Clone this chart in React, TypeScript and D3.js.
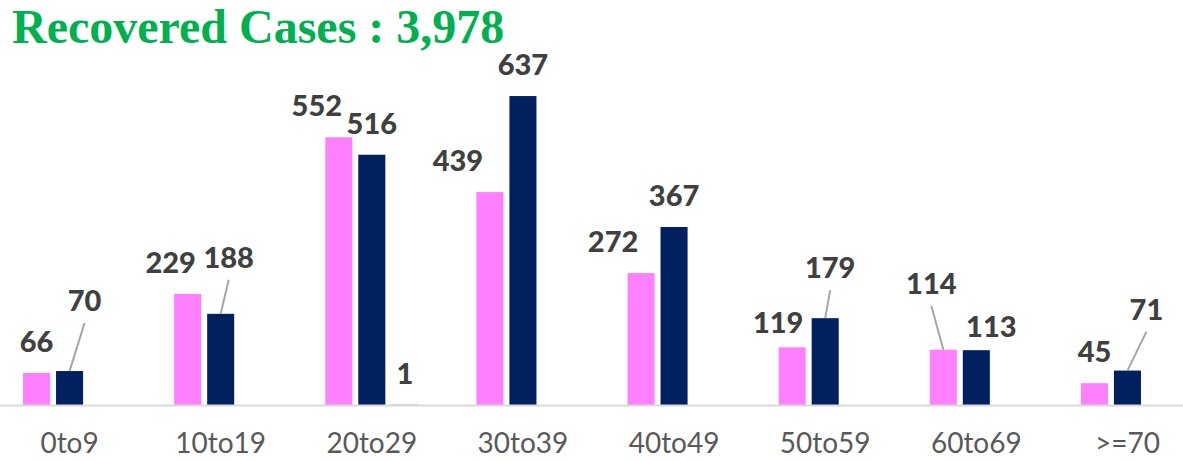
import { useEffect, useRef } from 'react'
import * as d3 from 'd3'

const categories = ['0to9', '10to19', '20to29', '30to39', '40to49', '50to59', '60to69', '>=70']
const seriesNames = ['Female', 'Male', 'Unknown']
const female = [66, 229, 552, 439, 272, 119, 114, 45]
const male = [70, 188, 516, 637, 367, 179, 113, 71]
const unknown = [0, 0, 1, 0, 0, 0, 0, 0]
const colors = ['#ff80ff', '#002060', '#a5a5a5']

// manual label nudges (dx, dy, leader line) for the labels that were dragged in the original
const nudges: Record<string, { dx: number; dy: number; leader?: boolean }> = {
  '0-1': { dx: 15, dy: -39, leader: true },
  '1-0': { dx: -17, dy: 0 },
  '1-1': { dx: 8, dy: -25, leader: true },
  '2-0': { dx: -22, dy: 0 },
  '3-0': { dx: -32, dy: 0 },
  '4-0': { dx: -28, dy: 0 },
  '5-0': { dx: -14, dy: 7 },
  '5-1': { dx: 5, dy: -19, leader: true },
  '6-0': { dx: -12, dy: -35, leader: true },
  '6-1': { dx: 15, dy: 8 },
  '7-1': { dx: 19, dy: -30, leader: true },
}

const W = 1183
const H = 461

export default function App() {
  const ref = useRef<SVGSVGElement>(null)

  useEffect(() => {
    const svg = d3.select(ref.current)
    svg.selectAll('*').remove()

    const series = [female, male, unknown]
    const rows = categories.map((c, i) => ({
      cat: c,
      values: series.map((s, k) => ({ key: k, value: s[i], ci: i })),
    }))

    const x0 = d3.scaleBand<string>()
      .domain(categories)
      .range([-6, 1203])
      .paddingInner(0.345)
      .paddingOuter(0.1725)

    const x1 = d3.scaleBand<number>()
      .domain(d3.range(seriesNames.length))
      .range([0, x0.bandwidth()])
      .paddingInner(0.18)
      .paddingOuter(0.09)

    const y = d3.scaleLinear().domain([0, 700]).range([405, 405 - 700 * 0.485])

    // title
    svg.append('text')
      .attr('x', 12)
      .attr('y', 43)
      .style('font-family', '"Liberation Serif", "Times New Roman", serif')
      .style('font-weight', 'bold')
      .style('font-size', '48px')
      .style('fill', '#00b050')
      .text('Recovered Cases : 3,978')

    const groups = svg.selectAll('.grp')
      .data(rows)
      .join('g')
      .attr('class', 'grp')
      .attr('transform', d => `translate(${x0(d.cat)},0)`)

    // Bars
    groups.selectAll('rect')
      .data(d => d.values.filter(v => v.value > 0))
      .join('rect')
      .attr('x', d => x1(d.key)!)
      .attr('width', x1.bandwidth())
      .attr('y', d => y(d.value))
      .attr('height', d => Math.max(1.5, y(0) - y(d.value)))
      .attr('fill', d => colors[d.key])

    // baseline
    svg.append('line')
      .attr('x1', 0)
      .attr('x2', W)
      .attr('y1', y(0) + 0.5)
      .attr('y2', y(0) + 0.5)
      .style('stroke', '#d9d9d9')
      .style('stroke-width', 2)

    // Value labels
    const labels = groups.selectAll('.lbl')
      .data(d => d.values.filter(v => v.value > 0))
      .join('g')
      .attr('class', 'lbl')

    labels.each(function (d) {
      const g = d3.select(this)
      const n = nudges[`${d.ci}-${d.key}`] || { dx: 0, dy: 0 }
      const cx = x1(d.key)! + x1.bandwidth() / 2
      const top = y(d.value)
      const tx = cx + n.dx
      const ty = top - 21 + n.dy
      if (n.leader) {
        g.append('line')
          .attr('x1', tx)
          .attr('y1', ty + 12)
          .attr('x2', cx)
          .attr('y2', top)
          .style('stroke', '#a6a6a6')
          .style('stroke-width', 2)
      }
      g.append('text')
        .attr('x', tx)
        .attr('y', ty)
        .attr('text-anchor', 'middle')
        .style('font-family', 'Lato, "Open Sans", sans-serif')
        .style('font-weight', 900)
        .style('font-size', '29px')
        .style('fill', '#404040')
        .text(d.value)
    })

    // X axis labels
    svg.append('g')
      .attr('transform', `translate(0,${y(0)})`)
      .call(d3.axisBottom(x0).tickSize(0).tickPadding(28))
      .call(g => g.select('.domain').remove())
      .selectAll('text')
      .style('font-family', 'Lato, "Open Sans", sans-serif')
      .style('font-size', '28px')
      .style('fill', '#595959')
  }, [])

  return (
    <svg
      ref={ref}
      width={W}
      height={H}
      style={{ position: 'absolute', left: 0, top: 0, background: '#fff' }}
    />
  )
}
